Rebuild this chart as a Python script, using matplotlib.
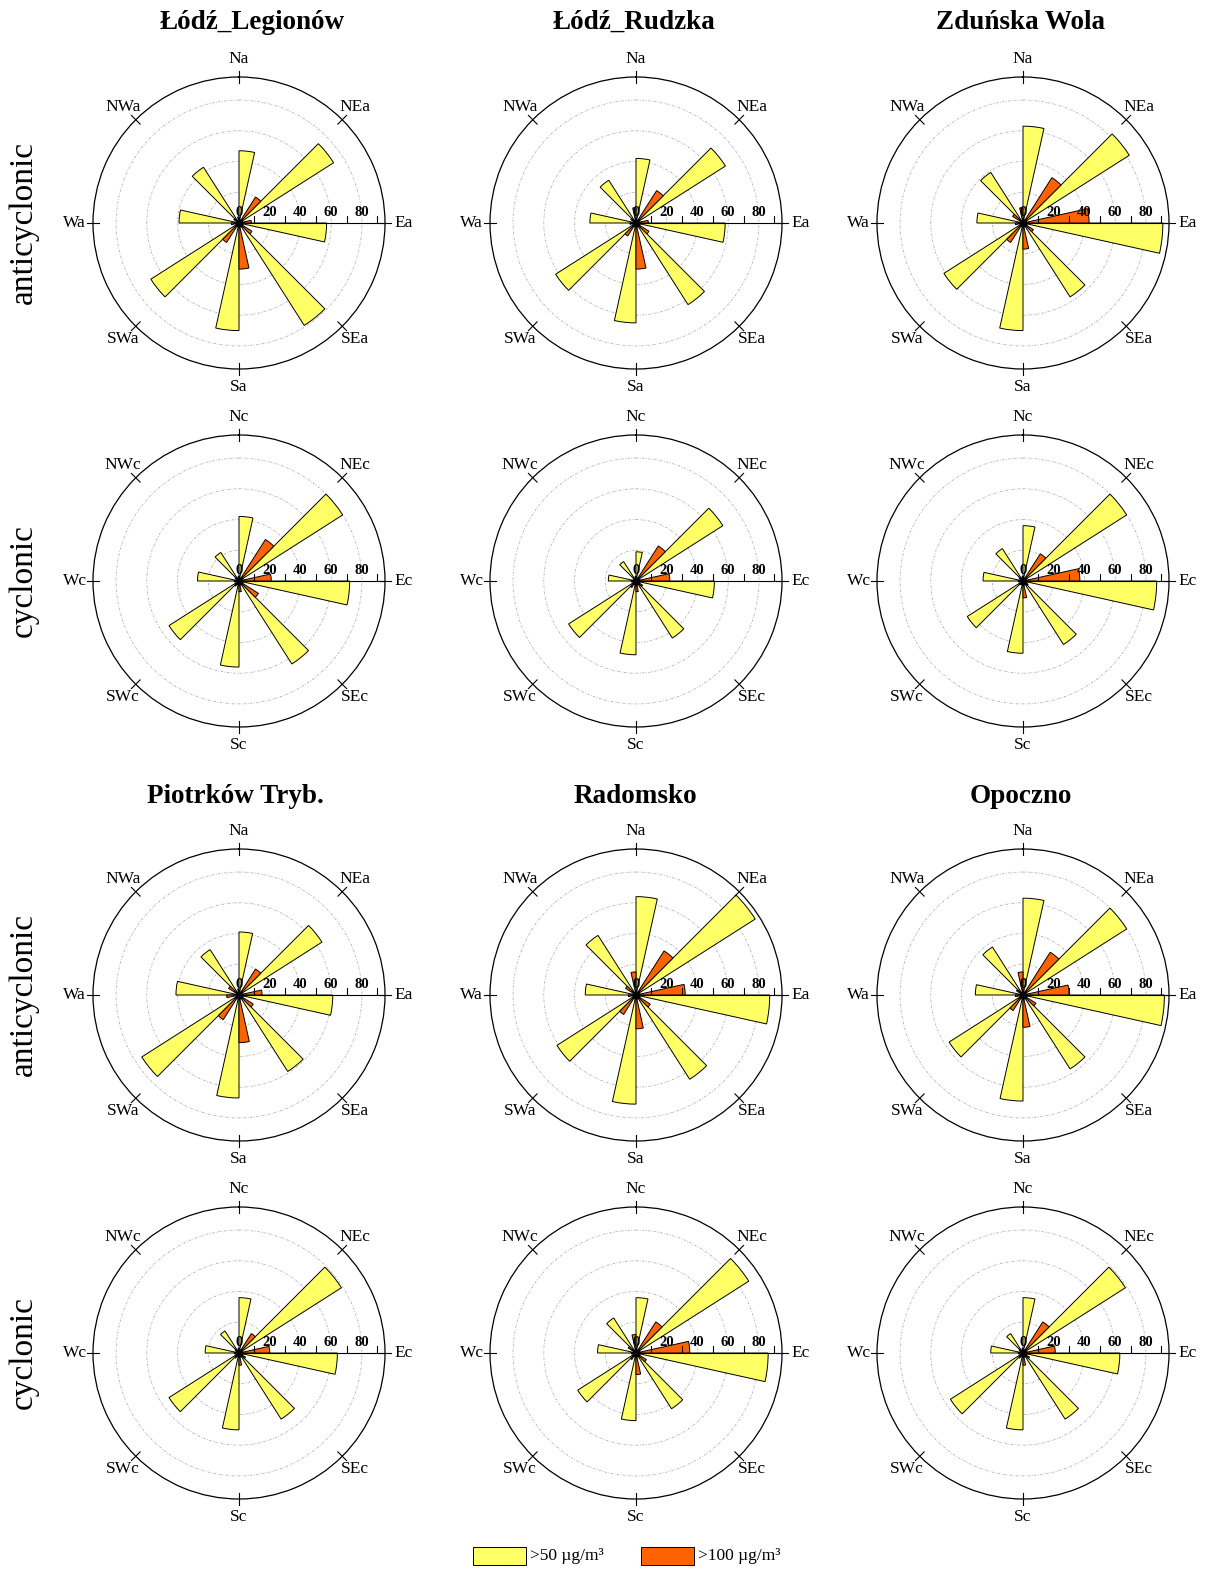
import numpy as np
import matplotlib
matplotlib.use("Agg")
import matplotlib.pyplot as plt
from matplotlib.patches import Rectangle

plt.rcParams['font.family'] = ['Liberation Serif', 'DejaVu Serif']

# Sectors (clockwise from north) and station names
directions = ['N', 'NE', 'E', 'SE', 'S', 'SW', 'W', 'NW']
stations = ['Łódź_Legionów', 'Łódź_Rudzka', 'Zduńska Wola',
            'Piotrków Tryb.', 'Radomsko', 'Opoczno']
circulation_names = ['anticyclonic', 'cyclonic']
radial_labels = [0, 20, 40, 60, 80]
radial_ticks = [10, 30, 50, 70, 90]
legend_labels = ['>50 µg/m³', '>100 µg/m³']

# Number of days above threshold per sector: anticyclonic (a) / cyclonic (c)
legionow_a50 = [47, 73, 57, 79, 70, 68, 39, 43]
legionow_a100 = [4, 20, 8, 10, 30, 15, 5, 4]
legionow_c50 = [42, 80, 72, 64, 56, 54, 27, 22]
legionow_c100 = [3, 32, 21, 15, 7, 4, 3, 3]

rudzka_a50 = [42, 69, 58, 63, 65, 62, 30, 33]
rudzka_a100 = [10, 25, 8, 10, 30, 10, 4, 4]
rudzka_c50 = [19, 67, 51, 44, 48, 52, 18, 15]
rudzka_c100 = [3, 27, 22, 5, 7, 5, 3, 2]

zdunska_a50 = [63, 82, 91, 57, 70, 61, 30, 39]
zdunska_a100 = [10, 35, 43, 8, 17, 15, 5, 8]
zdunska_c50 = [36, 80, 87, 49, 47, 43, 26, 25]
zdunska_c100 = [3, 21, 37, 4, 11, 3, 3, 3]

piotrkow_a50 = [41, 64, 61, 59, 67, 75, 41, 35]
piotrkow_a100 = [4, 20, 15, 11, 31, 19, 8, 8]
piotrkow_c50 = [36, 79, 64, 51, 50, 54, 22, 17]
piotrkow_c100 = [3, 15, 20, 5, 8, 4, 3, 3]

radomsko_a50 = [64, 92, 87, 65, 71, 61, 33, 46]
radomsko_a100 = [15, 34, 32, 11, 22, 15, 5, 8]
radomsko_c50 = [36, 87, 86, 43, 44, 45, 25, 27]
radomsko_c100 = [12, 24, 35, 8, 14, 5, 3, 6]

opoczno_a50 = [63, 80, 92, 57, 69, 57, 31, 37]
opoczno_a100 = [15, 33, 30, 10, 21, 12, 5, 5]
opoczno_c50 = [36, 79, 63, 51, 50, 56, 21, 15]
opoczno_c100 = [3, 24, 21, 5, 8, 4, 3, 3]

station_series = [
    [(legionow_a50, legionow_a100), (legionow_c50, legionow_c100)],
    [(rudzka_a50, rudzka_a100), (rudzka_c50, rudzka_c100)],
    [(zdunska_a50, zdunska_a100), (zdunska_c50, zdunska_c100)],
    [(piotrkow_a50, piotrkow_a100), (piotrkow_c50, piotrkow_c100)],
    [(radomsko_a50, radomsko_a100), (radomsko_c50, radomsko_c100)],
    [(opoczno_a50, opoczno_a100), (opoczno_c50, opoczno_c100)],
]

YELLOW = '#FFFF66'
ORANGE = '#FF6200'
RMAX = 95
WEDGE = np.radians(12.5)

W, H = 1208, 1571
R = 146
col_x = [239, 636, 1023]
title_x = [252, 634, 1020, 235, 635, 1021]
row_y = [223, 581, 995, 1353]
title_base_y = [29, 803]

fig = plt.figure(figsize=(W / 100, H / 100), dpi=100)
theta = np.radians(np.arange(0, 360, 45))


def draw_rose(ax, v50, v100, suffix):
    ax.set_theta_zero_location('N')
    ax.set_theta_direction(-1)
    ax.bar(theta, v50, width=WEDGE, align='edge', color=YELLOW,
           edgecolor='black', linewidth=0.7, zorder=3)
    ax.bar(theta - WEDGE, v100, width=WEDGE, align='edge', color=ORANGE,
           edgecolor='black', linewidth=0.7, zorder=3)
    ax.set_ylim(0, RMAX)
    ax.set_yticks([20, 40, 60, 80])
    ax.set_yticklabels([])
    ax.tick_params(axis='y', length=0)
    ax.yaxis.grid(True, color='#a8a8a8', linewidth=0.55,
                  linestyle=(0, (3, 2, 1, 2)))
    ax.set_xticks(theta)
    ax.set_xticklabels([])
    ax.xaxis.grid(False)
    ax.tick_params(axis='x', length=0)
    ax.spines['polar'].set_linewidth(0.9)
    # cross marks where each sector direction meets the outer circle
    for t in theta:
        ax.plot([t, t], [RMAX - 4, RMAX + 4], color='black', lw=0.8,
                clip_on=False, zorder=4)
    # radial scale along the east direction
    ax.plot([np.pi / 2, np.pi / 2], [0, RMAX], color='black', lw=0.8,
            zorder=4, clip_on=False)
    ax.plot([np.pi / 2] * len(radial_ticks), radial_ticks, ls='none',
            marker=2, ms=5, mew=0.8, color='black', zorder=4)
    ax.plot([0], [0], marker='o', ms=5, color='black', zorder=5)
    for v in radial_labels:
        ax.annotate(str(v), xy=(np.pi / 2, v), xytext=(0, 3),
                    textcoords='offset points', ha='center', va='bottom',
                    fontsize=10.5, fontweight='bold', zorder=5)
    for t, d in zip(theta, directions):
        ax.text(t, 107, d + suffix, ha='center', va='center', fontsize=12.5,
                clip_on=False)


for s, name in enumerate(stations):
    block, col = divmod(s, 3)
    cx = col_x[col]
    fig.text(title_x[s] / W, 1 - title_base_y[block] / H, name,
             ha='center', va='baseline', fontsize=19.5, fontweight='bold')
    for k, suffix in enumerate(['a', 'c']):
        cy = row_y[2 * block + k]
        ax = fig.add_axes([(cx - R) / W, 1 - (cy + R) / H, 2 * R / W,
                           2 * R / H], projection='polar')
        v50, v100 = station_series[s][k]
        draw_rose(ax, v50, v100, suffix)

for r, y in enumerate(row_y):
    fig.text(24 / W, 1 - y / H, circulation_names[r % 2], rotation=90,
             ha='center', va='center', fontsize=24)

# legend
for x0, color, label in [(473, YELLOW, legend_labels[0]),
                         (641, ORANGE, legend_labels[1])]:
    fig.add_artist(Rectangle((x0 / W, 1 - 1565 / H), 53 / W, 18 / H,
                             transform=fig.transFigure, facecolor=color,
                             edgecolor='black', linewidth=0.7))
    fig.text((x0 + 57) / W, 1 - 1556 / H, label, ha='left', va='center',
             fontsize=12.5)

fig.savefig('out.png', dpi=100)
